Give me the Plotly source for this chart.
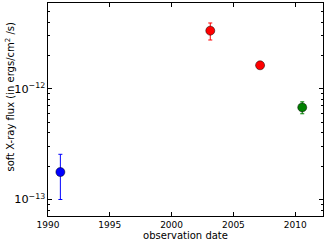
import plotly.graph_objects as go

# data
years_rosat = [1991.0]
flux_rosat = [1.77e-13]
err_up_rosat = [0.79e-13]
err_dn_rosat = [0.77e-13]

years_red = [2003.13, 2007.16]
flux_red = [3.35e-12, 1.63e-12]
err_up_red = [0.58e-12, 0.06e-12]
err_dn_red = [0.59e-12, 0.06e-12]

years_green = [2010.57]
flux_green = [6.79e-13]
err_up_green = [0.84e-13]
err_dn_green = [0.84e-13]

series = [
    (years_rosat, flux_rosat, err_up_rosat, err_dn_rosat, "#0000ff"),
    (years_red, flux_red, err_up_red, err_dn_red, "#ff0000"),
    (years_green, flux_green, err_up_green, err_dn_green, "#008000"),
]

fig = go.Figure()
for x, y, eu, ed, c in series:
    fig.add_trace(go.Scatter(
        x=x, y=y, mode="markers",
        marker=dict(color=c, size=9, line=dict(color="black", width=0.5)),
        error_y=dict(type="data", array=eu, arrayminus=ed, color=c,
                     thickness=1, width=2),
        showlegend=False,
    ))

font = dict(family="DejaVu Sans", size=9, color="black")
fig.update_layout(
    width=327, height=246,
    margin=dict(l=48, r=4, t=3, b=30),
    paper_bgcolor="white", plot_bgcolor="white",
    font=font,
    xaxis=dict(
        range=[1990, 2012.25], tick0=1990, dtick=5,
        ticks="inside", ticklen=4, tickcolor="black",
        showline=True, linecolor="black", linewidth=1, mirror="allticks",
        showgrid=False, zeroline=False, automargin=False,
        title=dict(text="observation date", font=dict(size=10), standoff=2),
    ),
    yaxis=dict(
        type="log", range=[-13.149, -11.225], dtick=1,
        exponentformat="power",
        ticks="inside", ticklen=4, tickcolor="black",
        minor=dict(ticks="inside", ticklen=2, tickcolor="black", dtick="D1", showgrid=False),
        showline=True, linecolor="black", linewidth=1, mirror="allticks",
        showgrid=False, zeroline=False, automargin=False,
    ),
    annotations=[dict(
        text="soft X-ray flux (in ergs/cm<sup>2</sup> /s)",
        xref="paper", yref="paper", x=0, y=0.5,
        xanchor="center", yanchor="middle", xshift=-39, yshift=12,
        textangle=-90, showarrow=False, font=dict(size=10),
    )],
)

fig.write_html("out.html", config={"displayModeBar": False},
               post_script="document.body.style.margin='0';")
